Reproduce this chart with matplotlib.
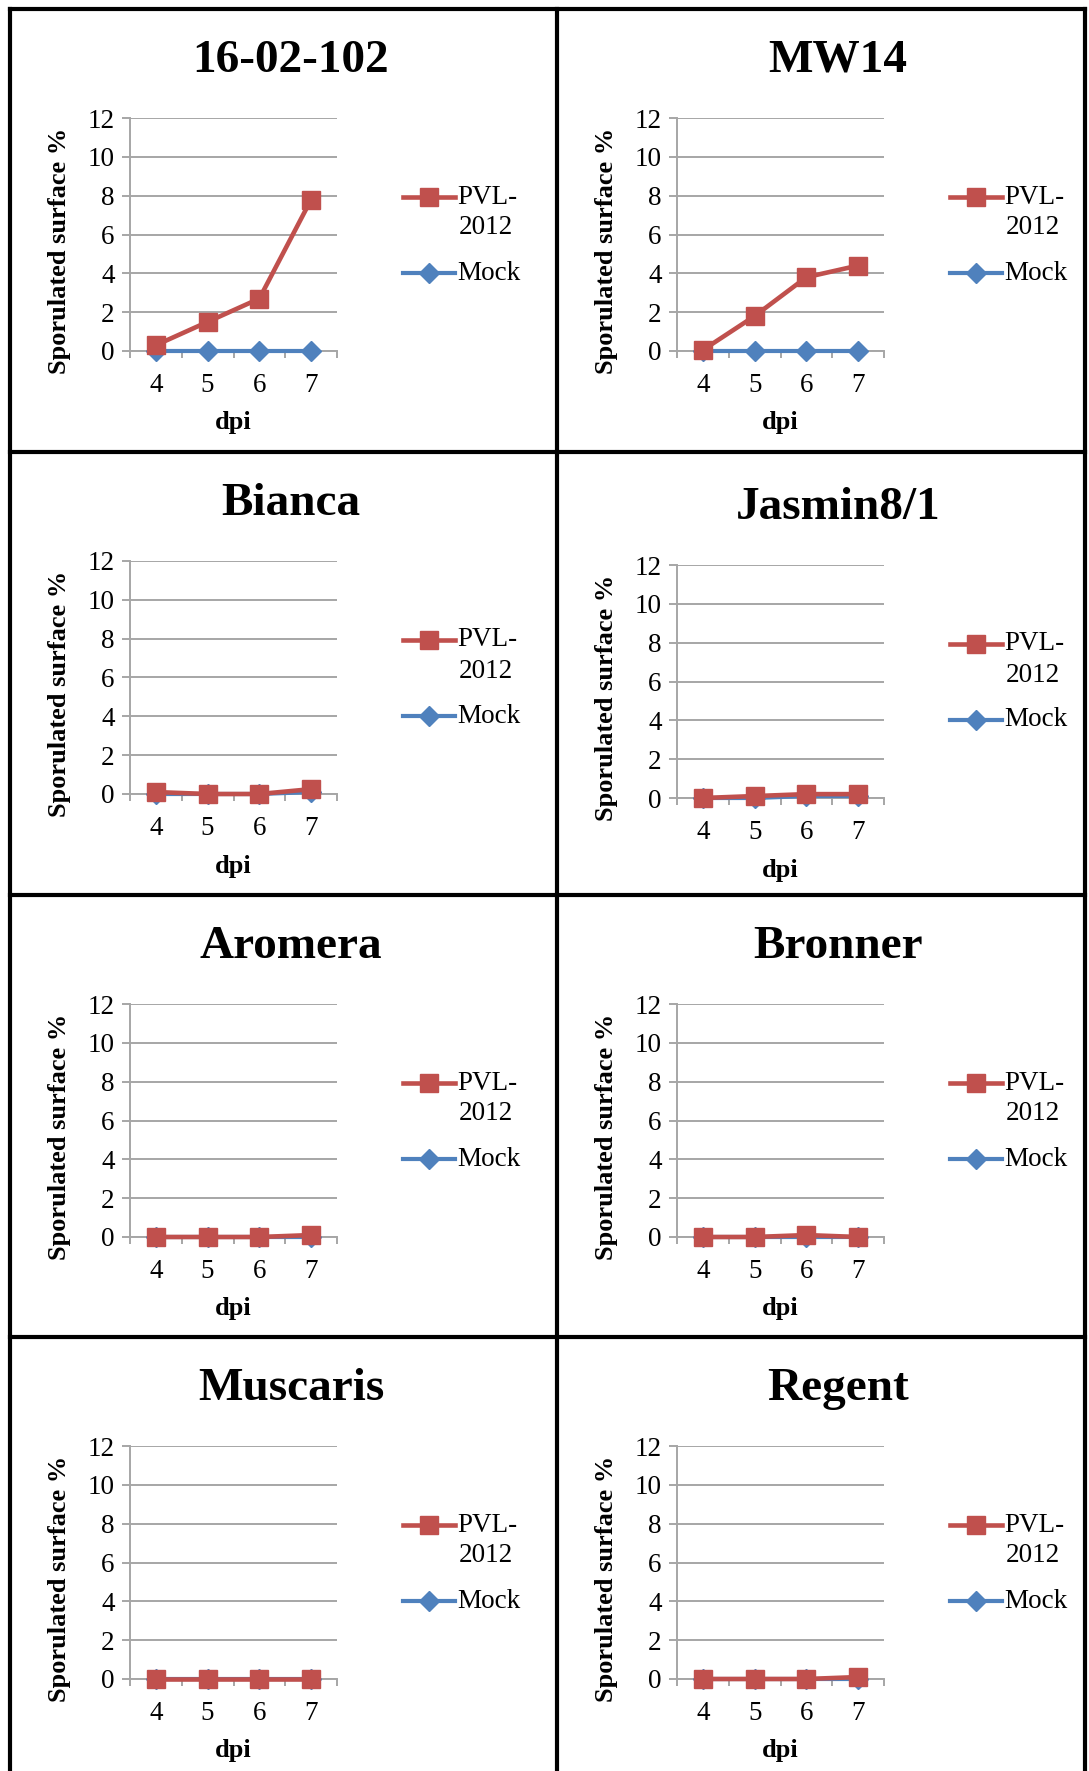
import numpy as np
import matplotlib.pyplot as plt
from matplotlib.lines import Line2D

# data (x = days post inoculation)
dpi_days = [4, 5, 6, 7]
cultivars = ["16-02-102", "MW14", "Bianca", "Jasmin8/1",
             "Aromera", "Bronner", "Muscaris", "Regent"]
pvl_2012 = [
    [0.3, 1.5, 2.7, 7.8],
    [0.05, 1.8, 3.8, 4.4],
    [0.1, 0.0, 0.0, 0.25],
    [0.0, 0.1, 0.2, 0.2],
    [0.0, 0.0, 0.0, 0.1],
    [0.0, 0.0, 0.1, 0.0],
    [0.0, 0.0, 0.0, 0.0],
    [0.0, 0.0, 0.0, 0.1],
]
mock = [
    [0.0, 0.0, 0.0, 0.0],
    [0.0, 0.0, 0.0, 0.0],
    [0.0, 0.0, 0.0, 0.1],
    [0.0, 0.0, 0.1, 0.1],
    [0.0, 0.0, 0.0, 0.0],
    [0.0, 0.0, 0.0, 0.0],
    [0.0, 0.0, 0.0, 0.0],
    [0.0, 0.0, 0.0, 0.0],
]
y_ticks = [0, 2, 4, 6, 8, 10, 12]

RED = "#C0504D"
BLUE = "#4F81BD"
GRID = "#A6A6A6"

W, H = 1089, 1771
fig = plt.figure(figsize=(W / 100, H / 100), dpi=100)
plt.rcParams['font.family'] = ['Liberation Serif', 'DejaVu Serif']


def fx(px):
    return px / W


def fy(py):
    return 1 - py / H


col_left = [10, 557]
row_top = [9, 452, 895, 1337]
# small per-panel vertical shift (Jasmin8/1 sits a bit lower)
shift = [0, 0, 0, 4, 0, 0, 0, 0]

# panel frame lines
for x in [10, 557, 1085]:
    fig.add_artist(Line2D([fx(x), fx(x)], [fy(9), fy(1771)], color="black", lw=3))
for y in row_top:
    fig.add_artist(Line2D([fx(10), fx(1085)], [fy(y), fy(y)], color="black", lw=3))

for i, name in enumerate(cultivars):
    c0 = col_left[i % 2]
    r0 = row_top[i // 2] + shift[i]
    ax_l, ax_t = c0 + 120, r0 + 109
    ax_w, ax_h = 207, 233
    ax = fig.add_axes([fx(ax_l), fy(ax_t + ax_h), ax_w / W, ax_h / H])

    ax.plot(dpi_days, mock[i], color=BLUE, lw=3, marker="D", ms=10,
            zorder=3, clip_on=False)
    ax.plot(dpi_days, pvl_2012[i], color=RED, lw=3.3, marker="s", ms=13.5,
            zorder=4, clip_on=False)

    ax.set_xlim(3.5, 7.5)
    ax.set_ylim(0, 12)
    ax.set_yticks(y_ticks)
    ax.set_xticks(dpi_days)
    ax.set_xticks([3.5, 4.5, 5.5, 6.5, 7.5], minor=True)
    ax.grid(axis="y", color=GRID, lw=1.4)
    ax.set_axisbelow(True)
    for s in ["top", "right"]:
        ax.spines[s].set_visible(False)
    for s in ["left", "bottom"]:
        ax.spines[s].set_color(GRID)
        ax.spines[s].set_linewidth(1.4)
    ax.tick_params(axis="y", length=6, width=1.4, color=GRID, pad=5,
                   labelsize=19.5)
    ax.tick_params(axis="x", which="major", length=0, pad=16, labelsize=19.5)
    ax.tick_params(axis="x", which="minor", length=5, width=1.4, color=GRID)

    # panel title, axis labels
    fig.text(fx(c0 + 281), fy(r0 + 52), name, ha="center", va="center",
             fontsize=34, fontweight="bold")
    fig.text(fx(c0 + 49.5), fy(r0 + 242), "Sporulated surface %",
             rotation=90, ha="center", va="center", fontsize=19,
             fontweight="bold")
    fig.text(fx(ax_l + ax_w / 2), fy(r0 + 414), "dpi", ha="center",
             va="center", fontsize=19, fontweight="bold")

    # legend keys to the right of the plot area
    lx0, lx1 = c0 + 393, c0 + 445
    for ly, col, mk, ms, lw in [(r0 + 188, RED, "s", 13.5, 3.3),
                                (r0 + 264, BLUE, "D", 10, 3)]:
        fig.add_artist(Line2D([fx(lx0), fx((lx0 + lx1) / 2), fx(lx1)],
                              [fy(ly)] * 3, color=col, lw=lw, marker=mk,
                              ms=ms, markevery=[1]))
    fig.text(fx(lx1 + 2), fy(r0 + 188), "PVL-", ha="left", va="center",
             fontsize=19.5)
    fig.text(fx(lx1 + 4), fy(r0 + 219), "2012", ha="left", va="center",
             fontsize=19.5)
    fig.text(fx(lx1 + 2), fy(r0 + 264), "Mock", ha="left", va="center",
             fontsize=19.5)

fig.savefig("out.png", dpi=100)
